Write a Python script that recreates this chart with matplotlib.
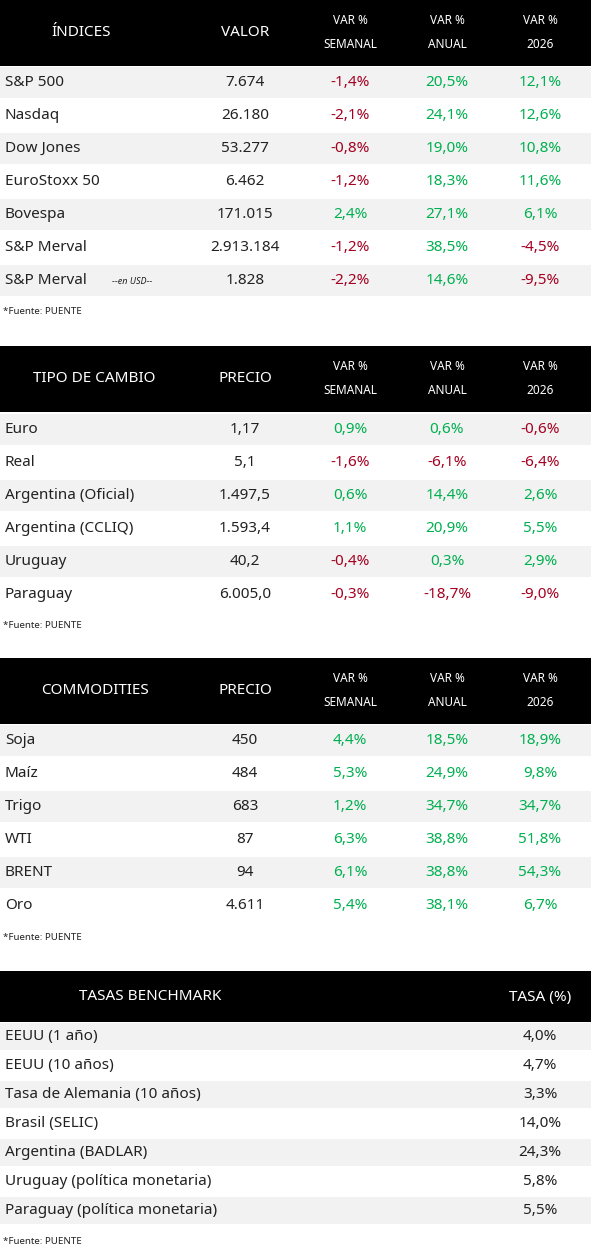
import matplotlib.pyplot as plt

plt.rcParams['font.family'] = ['Noto Sans', 'DejaVu Sans']

RED = '#a50021'
GREEN = '#00b050'
GRAY = '#f2f2f2'

# ---------------------------------------------------------------------------- #
# Data                                                                         #
# ---------------------------------------------------------------------------- #
idx_names = ['S&P 500', 'Nasdaq', 'Dow Jones', 'EuroStoxx 50', 'Bovespa', 'S&P Merval', 'S&P Merval']
idx_valor = ['7.674', '26.180', '53.277', '6.462', '171.015', '2.913.184', '1.828']
idx_sem = [-1.4, -2.1, -0.8, -1.2, 2.4, -1.2, -2.2]
idx_anual = [20.5, 24.1, 19.0, 18.3, 27.1, 38.5, 14.6]
idx_2026 = [12.1, 12.6, 10.8, 11.6, 6.1, -4.5, -9.5]

fx_names = ['Euro', 'Real', 'Argentina (Oficial)', 'Argentina (CCLIQ)', 'Uruguay', 'Paraguay']
fx_precio = ['1,17', '5,1', '1.497,5', '1.593,4', '40,2', '6.005,0']
fx_sem = [0.9, -1.6, 0.6, 1.1, -0.4, -0.3]
fx_anual = [0.6, -6.1, 14.4, 20.9, 0.3, -18.7]
fx_2026 = [-0.6, -6.4, 2.6, 5.5, 2.9, -9.0]

com_names = ['Soja', 'Maíz', 'Trigo', 'WTI', 'BRENT', 'Oro']
com_precio = ['450', '484', '683', '87', '94', '4.611']
com_sem = [4.4, 5.3, 1.2, 6.3, 6.1, 5.4]
com_anual = [18.5, 24.9, 34.7, 38.8, 38.8, 38.1]
com_2026 = [18.9, 9.8, 34.7, 51.8, 54.3, 6.7]

tasa_names = ['EEUU (1 año)', 'EEUU (10 años)', 'Tasa de Alemania (10 años)', 'Brasil (SELIC)',
              'Argentina (BADLAR)', 'Uruguay (política monetaria)', 'Paraguay (política monetaria)']
tasa_vals = [4.0, 4.7, 3.3, 14.0, 24.3, 5.8, 5.5]

W, H = 591, 1260
fig = plt.figure(figsize=(W / 100, H / 100), dpi=100)
ax = fig.add_axes([0, 0, 1, 1])
ax.set_xlim(0, W)
ax.set_ylim(H, 0)
ax.axis('off')

COLS = [245, 350, 447, 540]


def pct(v):
    return f'{v:.1f}%'.replace('.', ',')


def header(y0, y1, first, second, first_x=95):
    ax.add_patch(plt.Rectangle((0, y0), W, y1 - y0, color='#000000', lw=0))
    ym = (y0 + y1) / 2
    ax.text(first_x, ym, first, color='w', fontsize=11, weight='bold', ha='center', va='center')
    ax.text(COLS[0], ym, second, color='w', fontsize=11, weight='bold', ha='center', va='center')
    for x, lab in zip(COLS[1:], ['SEMANAL', 'ANUAL', '2026']):
        ax.text(x, ym - 12, 'VAR %', color='w', fontsize=8.5, weight='bold', ha='center', va='center')
        ax.text(x, ym + 12, lab, color='w', fontsize=8.5, weight='bold', ha='center', va='center')


def table(y0, rh, names, vals, sem, anual, y26):
    for i, name in enumerate(names):
        top = y0 + i * rh
        if i % 2 == 0:
            ax.add_patch(plt.Rectangle((0, top + 1), W, rh - 2, color=GRAY, lw=0))
        yc = top + rh / 2
        ax.text(5, yc, name, fontsize=11, weight='bold', color='#222222', va='center')
        ax.text(COLS[0], yc, vals[i], fontsize=11, weight='bold', color='#222222', ha='center', va='center')
        for x, v in zip(COLS[1:], [sem[i], anual[i], y26[i]]):
            ax.text(x, yc, pct(v), fontsize=11, weight='bold', color=GREEN if v >= 0 else RED,
                    ha='center', va='center')
    ax.text(3, y0 + len(names) * rh + 15, '*Fuente: PUENTE', fontsize=7, color='#222222', va='center')


header(0, 66, 'ÍNDICES', 'VALOR', first_x=81)
table(66, 33, idx_names, idx_valor, idx_sem, idx_anual, idx_2026)
ax.text(112, 282, '--en USD--', fontsize=6.5, style='italic', color='#222222', va='center')

header(346, 412, 'TIPO DE CAMBIO', 'PRECIO', first_x=94)
table(413, 33, fx_names, fx_precio, fx_sem, fx_anual, fx_2026)

header(658, 724, 'COMMODITIES', 'PRECIO')
table(724, 33, com_names, com_precio, com_sem, com_anual, com_2026)

# Tasas benchmark ------------------------------------------------------------ #
ax.add_patch(plt.Rectangle((0, 971), W, 51, color='#000000', lw=0))
ax.text(150, 997, 'TASAS BENCHMARK', color='w', fontsize=11, weight='bold', ha='center', va='center')
ax.text(540, 997, 'TASA (%)', color='w', fontsize=11, weight='bold', ha='center', va='center')
rh = 29
for i, name in enumerate(tasa_names):
    top = 1022 + i * rh
    if i % 2 == 0:
        ax.add_patch(plt.Rectangle((0, top + 1), W, rh - 2, color=GRAY, lw=0))
    yc = top + rh / 2
    ax.text(5, yc, name, fontsize=11, weight='bold', color='#222222', va='center')
    ax.text(540, yc, pct(tasa_vals[i]), fontsize=11, weight='bold', color='#222222', ha='center', va='center')
ax.text(3, 1242, '*Fuente: PUENTE', fontsize=7, color='#222222', va='center')

fig.savefig('out.png', dpi=100, facecolor='white')
